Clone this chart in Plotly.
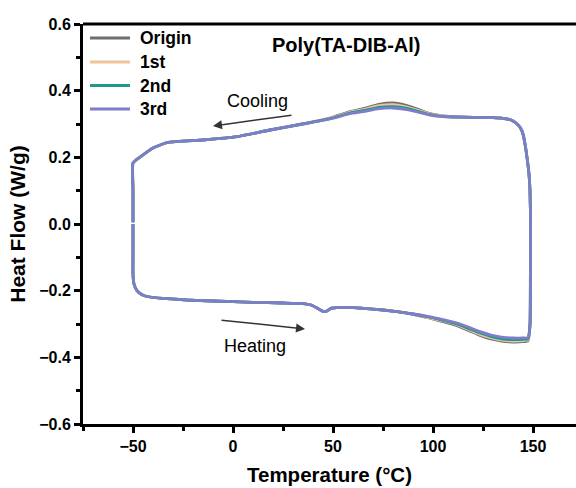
import plotly.graph_objects as go

# Temperature path of the DSC loop (heating: -50 -> 150, cooling: 150 -> -50)
temperature = [-50, -50, -50, -49.5, -48, -45.5, -41.5, -35, -23, -10,
               10, 25, 35, 39, 42, 45, 47, 49, 52, 58,
               65, 75, 82, 90, 98, 105, 112, 118, 123.5, 129,
               135, 140, 145, 147.5, 148.5, 148.7, 148.8, 148.5, 148, 147,
               146, 145, 143.5, 141.5, 139, 135, 130, 120, 110, 104,
               98.5, 93, 87, 80, 73, 65, 58.5, 48.5, 35, 18.5,
               2, -15, -32.5, -40, -46, -48.5, -50, -50, -50]

heat_origin = [0.000, -0.080, -0.150, -0.180, -0.200, -0.212, -0.219, -0.223, -0.228, -0.231,
               -0.235, -0.237, -0.239, -0.243, -0.252, -0.262, -0.261, -0.253, -0.251, -0.250,
               -0.253, -0.258, -0.263, -0.271, -0.282, -0.293, -0.305, -0.320, -0.334, -0.345,
               -0.352, -0.354, -0.353, -0.350, -0.305, -0.150, 0.000, 0.100, 0.150, 0.200,
               0.240, 0.270, 0.290, 0.303, 0.312, 0.317, 0.319, 0.320, 0.322, 0.325,
               0.331, 0.343, 0.355, 0.363, 0.359, 0.346, 0.337, 0.318, 0.301, 0.282,
               0.262, 0.252, 0.245, 0.228, 0.203, 0.192, 0.183, 0.100, 0.005]

heat_1st = [0.000, -0.080, -0.150, -0.180, -0.200, -0.212, -0.219, -0.223, -0.228, -0.231,
            -0.235, -0.237, -0.239, -0.243, -0.252, -0.262, -0.261, -0.253, -0.251, -0.250,
            -0.253, -0.258, -0.263, -0.270, -0.281, -0.291, -0.302, -0.317, -0.331, -0.341,
            -0.349, -0.351, -0.350, -0.347, -0.304, -0.150, 0.000, 0.100, 0.150, 0.200,
            0.240, 0.270, 0.290, 0.303, 0.312, 0.317, 0.319, 0.320, 0.321, 0.324,
            0.330, 0.340, 0.351, 0.358, 0.355, 0.343, 0.335, 0.317, 0.300, 0.282,
            0.262, 0.252, 0.245, 0.228, 0.203, 0.192, 0.183, 0.100, 0.005]

heat_2nd = [0.000, -0.080, -0.150, -0.180, -0.200, -0.212, -0.219, -0.223, -0.228, -0.231,
            -0.235, -0.237, -0.239, -0.243, -0.252, -0.262, -0.261, -0.253, -0.251, -0.250,
            -0.253, -0.258, -0.263, -0.270, -0.279, -0.289, -0.300, -0.314, -0.327, -0.337,
            -0.345, -0.347, -0.346, -0.344, -0.302, -0.150, 0.000, 0.100, 0.150, 0.200,
            0.240, 0.270, 0.290, 0.303, 0.312, 0.317, 0.319, 0.320, 0.321, 0.323,
            0.328, 0.337, 0.347, 0.352, 0.350, 0.340, 0.333, 0.316, 0.300, 0.282,
            0.262, 0.252, 0.245, 0.228, 0.203, 0.192, 0.183, 0.100, 0.005]

heat_3rd = [0.000, -0.080, -0.150, -0.180, -0.200, -0.212, -0.219, -0.223, -0.228, -0.231,
            -0.235, -0.237, -0.239, -0.243, -0.252, -0.262, -0.261, -0.253, -0.251, -0.250,
            -0.253, -0.258, -0.263, -0.270, -0.278, -0.287, -0.297, -0.310, -0.323, -0.333,
            -0.340, -0.342, -0.342, -0.341, -0.300, -0.150, 0.000, 0.100, 0.150, 0.200,
            0.240, 0.270, 0.290, 0.303, 0.312, 0.317, 0.319, 0.320, 0.321, 0.323,
            0.327, 0.335, 0.343, 0.348, 0.346, 0.337, 0.331, 0.315, 0.300, 0.282,
            0.262, 0.252, 0.245, 0.228, 0.203, 0.192, 0.183, 0.100, 0.005]

series_names = ["Origin", "1st", "2nd", "3rd"]
series_values = [heat_origin, heat_1st, heat_2nd, heat_3rd]
series_colors = ["#6f6f6f", "#efc49c", "#1b9a8a", "#7d7dc9"]

x_ticks = [-50, 0, 50, 100, 150]
y_ticks = [-0.6, -0.4, -0.2, 0.0, 0.2, 0.4, 0.6]

FONT = "Liberation Sans, Arial, sans-serif"

fig = go.Figure()
for name, vals, col in zip(series_names, series_values, series_colors):
    fig.add_trace(go.Scatter(
        x=temperature, y=vals, name=name, mode="lines",
        line=dict(color=col, width=2.8, shape="spline", smoothing=0.5),
        showlegend=False,
    ))

fig.update_layout(
    width=576, height=488,
    margin=dict(l=83, r=0, t=24, b=64),
    plot_bgcolor="white", paper_bgcolor="white",
    font=dict(family=FONT, color="black"),
)

fig.update_xaxes(
    range=[-75, 171.5], tickvals=x_ticks,
    showline=True, linewidth=3, linecolor="black",
    ticks="outside", ticklen=6, tickwidth=2.5, tickcolor="black",
    minor=dict(dtick=25, tick0=-75, ticks="outside", ticklen=4, tickwidth=2.5, tickcolor="black"),
    showgrid=False, zeroline=False,
    tickfont=dict(size=16, family=FONT, weight="bold"),
    title=dict(text="Temperature (°C)", font=dict(size=20.5, family=FONT, weight="bold"), standoff=14),
)
fig.update_yaxes(
    range=[-0.6, 0.6], tickvals=y_ticks, tickformat=".1f",
    showline=True, linewidth=3, linecolor="black",
    ticks="outside", ticklen=6, tickwidth=2.5, tickcolor="black",
    minor=dict(dtick=0.1, tick0=-0.6, ticks="outside", ticklen=4, tickwidth=2.5, tickcolor="black"),
    showgrid=False, zeroline=False,
    tickfont=dict(size=16, family=FONT, weight="bold"),
    title=dict(text="Heat Flow (W/g)", font=dict(size=21, family=FONT, weight="bold"), standoff=8),
)

# top frame line
fig.add_shape(type="line", xref="paper", yref="paper", x0=0, x1=1, y0=1, y1=1,
              line=dict(color="black", width=3))

# legend drawn in paper coordinates (plot area: 493 x 400 px)
PW, PH = 493.0, 400.0
legend_rows_px = [38, 62, 85.5, 109]
for name, col, py in zip(series_names, series_colors, legend_rows_px):
    yp = (424 - py) / PH
    fig.add_shape(type="line", xref="paper", yref="paper",
                  x0=(90 - 83) / PW, x1=(130 - 83) / PW, y0=yp, y1=yp,
                  line=dict(color=col, width=3))
    fig.add_annotation(x=(138 - 83) / PW, y=yp, xref="paper", yref="paper",
                       xanchor="left", yanchor="middle", text=name, showarrow=False,
                       font=dict(size=17.5, family=FONT, weight="bold"))

# title inside plot
fig.add_annotation(x=56.5, y=0.537, xref="x", yref="y", text="Poly(TA-DIB-Al)",
                   showarrow=False, font=dict(size=20, family=FONT, weight="bold"))

# cooling / heating labels and arrows
fig.add_annotation(x=12.3, y=0.369, xref="x", yref="y", text="Cooling",
                   showarrow=False, font=dict(size=18, family=FONT))
fig.add_annotation(x=-10, y=0.294, ax=30, ay=0.327, xref="x", yref="y", axref="x", ayref="y",
                   text="", showarrow=True, arrowhead=2, arrowsize=1.2, arrowwidth=1.5,
                   arrowcolor="#333333")
fig.add_annotation(x=11, y=-0.366, xref="x", yref="y", text="Heating",
                   showarrow=False, font=dict(size=18, family=FONT))
fig.add_annotation(x=36, y=-0.315, ax=-6.5, ay=-0.288, xref="x", yref="y", axref="x", ayref="y",
                   text="", showarrow=True, arrowhead=2, arrowsize=1.2, arrowwidth=1.5,
                   arrowcolor="#333333")

fig.write_html("out.html")
